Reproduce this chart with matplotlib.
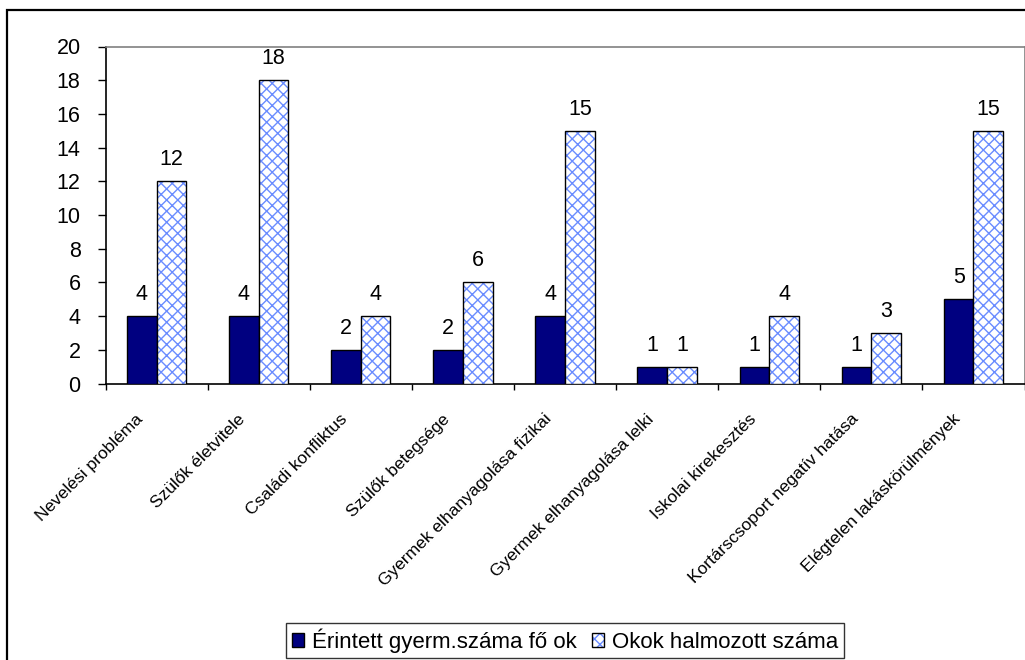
import matplotlib
matplotlib.use("Agg")
import matplotlib.pyplot as plt
import numpy as np
from matplotlib.patches import Patch, Rectangle
from matplotlib.legend_handler import HandlerTuple
from matplotlib.transforms import ScaledTranslation

plt.rcParams['font.family'] = ['Liberation Sans', 'DejaVu Sans']

categories = ["Nevelési probléma", "Szülők életvitele", "Családi konfliktus",
              "Szülők betegsége", "Gyermek elhanyagolása fizikai",
              "Gyermek elhanyagolása lelki", "Iskolai kirekesztés",
              "Kortárscsoport negatív hatása", "Elégtelen lakáskörülmények"]
series1_name = "Érintett gyerm.száma fő ok"
series2_name = "Okok halmozott száma"
series1 = [4, 4, 2, 2, 4, 1, 1, 1, 5]
series2 = [12, 18, 4, 6, 15, 1, 4, 3, 15]
yticks = [0, 2, 4, 6, 8, 10, 12, 14, 16, 18, 20]

dark = '#000080'
hatch_blue = '#6a8cff'

fig = plt.figure(figsize=(10.25, 6.6), dpi=100)
ax = fig.add_axes([105.5/1025, 1-383.5/660, 919/1025, 337/660])

x = np.arange(len(categories))
w = 0.29
b1 = ax.bar(x - w/2, series1, w, color=dark, edgecolor='black', linewidth=1, zorder=3)
ax.bar(x + w/2, series2, w, color='white', edgecolor=hatch_blue, hatch='xxx', linewidth=0, zorder=3)
b2 = ax.bar(x + w/2, series2, w, fill=False, edgecolor='black', linewidth=1, zorder=4)

ax.bar_label(b1, labels=[str(v) for v in series1], padding=8, fontsize=15.5)
ax.bar_label(b2, labels=[str(v) for v in series2], padding=8, fontsize=15.5)

ax.set_xlim(-0.5, len(categories) - 0.5)
ax.set_ylim(0, 20)
ax.set_yticks(yticks)
ax.tick_params(axis='y', direction='out', length=6, width=1, pad=12, labelsize=15.5)

ax.set_xticks(x)
ax.set_xticklabels(categories, fontsize=12.5)
ax.set_xticks(np.arange(len(categories) + 1) - 0.5, minor=True)
ax.tick_params(axis='x', which='major', length=0, pad=20)
ax.tick_params(axis='x', which='minor', direction='out', length=4, width=1)
shift = ScaledTranslation(-21/100, 0, fig.dpi_scale_trans)
for lab in ax.get_xticklabels():
    lab.set_rotation(45)
    lab.set_ha('right')
    lab.set_va('top')
    lab.set_rotation_mode('anchor')
    lab.set_transform(lab.get_transform() + shift)

for s in ['top', 'right']:
    ax.spines[s].set_color('#808080')
    ax.spines[s].set_linewidth(1.2)
for s in ['left', 'bottom']:
    ax.spines[s].set_color('black')
    ax.spines[s].set_linewidth(1.2)

h1 = Patch(facecolor=dark, edgecolor='black', linewidth=1)
h2a = Patch(facecolor='white', edgecolor=hatch_blue, hatch='xxx', linewidth=0)
h2b = Patch(fill=False, edgecolor='black', linewidth=1)
leg = fig.legend([h1, (h2a, h2b)], [series1_name, series2_name],
                 handler_map={tuple: HandlerTuple(ndivide=1)},
                 loc='center', bbox_to_anchor=(565/1025, 1-640.5/660),
                 ncol=2, fontsize=16, frameon=True, fancybox=False,
                 edgecolor='black', handlelength=0.55, handleheight=0.55,
                 handletextpad=0.35, columnspacing=0.7, borderpad=0.25,
                 borderaxespad=0)
leg.get_frame().set_linewidth(1)

border = Rectangle((7/1025, -0.1), 1.2, 1.1 - 10/660, transform=fig.transFigure,
                   fill=False, edgecolor='black', linewidth=1.6, zorder=10)
fig.patches.append(border)

fig.savefig('out.png', dpi=100)
